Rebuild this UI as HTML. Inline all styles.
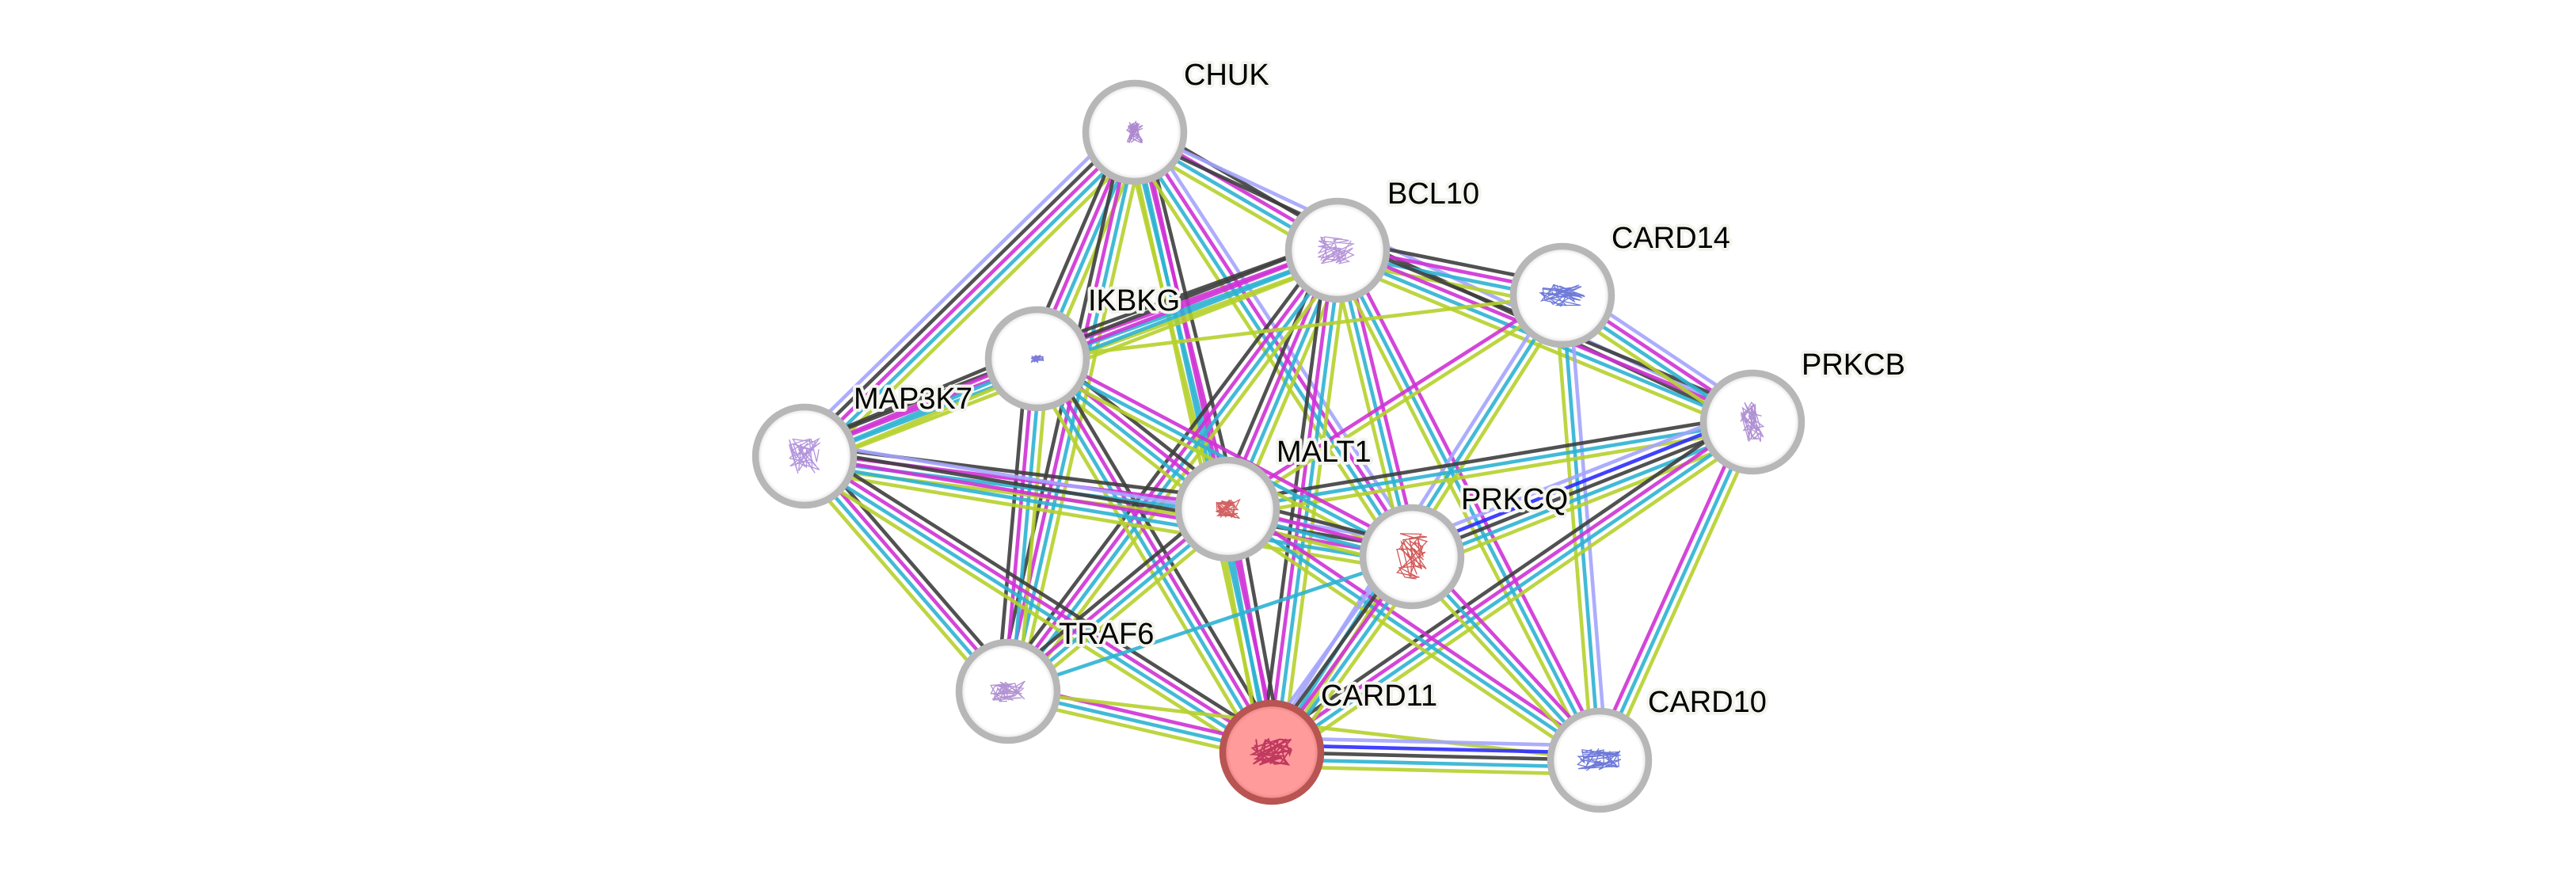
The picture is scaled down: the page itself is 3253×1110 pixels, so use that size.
<!DOCTYPE html>
<html><head><meta charset="utf-8"><style>
html,body{margin:0;padding:0;background:#fff;}
body{width:3253px;height:1110px;overflow:hidden;}
svg{display:block;}
.lbl{font-family:"Liberation Sans",Arial,sans-serif;font-size:38px;fill:#000;stroke:#f4f4ee;stroke-width:8px;stroke-linejoin:round;paint-order:stroke fill;}
</style></head><body>
<svg id="s" width="3253" height="1110" viewBox="0 0 3253 1110" xmlns="http://www.w3.org/2000/svg">
<defs>
<radialGradient id="gw" cx="50%" cy="50%" r="50%">
<stop offset="0" stop-color="#ffffff"/><stop offset="0.86" stop-color="#ffffff"/><stop offset="1" stop-color="#d6d6d6"/>
</radialGradient>
<radialGradient id="gr" cx="50%" cy="50%" r="50%">
<stop offset="0" stop-color="#ff9b9b"/><stop offset="0.86" stop-color="#ff9b9b"/><stop offset="1" stop-color="#e07a78"/>
</radialGradient>
</defs>
<g id="edges"></g>
<g id="nodes"></g>
<g id="labels">
<text class="lbl" x="1495" y="107">CHUK</text>
<text class="lbl" x="1752" y="257">BCL10</text>
<text class="lbl" x="2035" y="313">CARD14</text>
<text class="lbl" x="2275" y="473">PRKCB</text>
<text class="lbl" x="1374" y="392">IKBKG</text>
<text class="lbl" x="1078" y="516">MAP3K7</text>
<text class="lbl" x="1612" y="583">MALT1</text>
<text class="lbl" x="1845" y="643">PRKCQ</text>
<text class="lbl" x="1337" y="813">TRAF6</text>
<text class="lbl" x="1668" y="891">CARD11</text>
<text class="lbl" x="2081" y="899">CARD10</text>
</g>
</svg>
<script>
var NS="http://www.w3.org/2000/svg";
var N={CHUK:[1433,167],BCL10:[1689,316],CARD14:[1973,373],PRKCB:[2213,533],IKBKG:[1310,453],MAP3K7:[1016,576],MALT1:[1550,643],PRKCQ:[1783,703],TRAF6:[1273,873],CARD11:[1606,950],CARD10:[2020,960]};
var C={h:'#a4a4fd',o:'#2c2cff',k:'#3e3e3e',e:'#cf31d5',d:'#2eb3d3',t:'#b6d02c'};
var E=[
['CHUK','MAP3K7','hkedt'],['CHUK','IKBKG','kedt'],['CHUK','BCL10','kedt'],['CHUK','PRKCB','hk'],
['CHUK','MALT1','kedt'],['CHUK','TRAF6','kedt'],['CHUK','CARD11','edt'],['CHUK','PRKCQ','hedt'],
['BCL10','IKBKG','kedt'],['BCL10','MAP3K7','kedt'],['BCL10','CARD14','kedt'],['BCL10','PRKCB','kedt'],
['BCL10','MALT1','kedt'],['BCL10','CARD11','kedt'],['BCL10','TRAF6','kedt'],['BCL10','PRKCQ','edt'],['BCL10','CARD10','edt'],
['CARD14','IKBKG','t'],['CARD14','PRKCB','hedt'],['CARD14','MALT1','et'],['CARD14','CARD11','hdt'],['CARD14','CARD10','hdt'],
['PRKCB','MALT1','kdt'],['PRKCB','PRKCQ','hokdt'],['PRKCB','CARD11','kedt'],['PRKCB','CARD10','edt'],
['IKBKG','MAP3K7','kedt'],['IKBKG','MALT1','kedt'],['IKBKG','TRAF6','kedt'],['IKBKG','CARD11','kedt'],['IKBKG','PRKCQ','edt'],
['MAP3K7','MALT1','kedt'],['MAP3K7','PRKCQ','hkedt'],['MAP3K7','TRAF6','kedt'],['MAP3K7','CARD11','kedt'],
['MALT1','PRKCQ','kedt'],['MALT1','TRAF6','kedt'],['MALT1','CARD11','kedt'],['MALT1','CARD10','edt'],
['PRKCQ','CARD11','hkedt'],['PRKCQ','TRAF6','d'],['PRKCQ','CARD10','edt'],
['TRAF6','CARD11','edt'],['TRAF6','CARD10','t'],
['CARD11','CARD10','hokdt']
];
var eg=document.getElementById('edges');
E.forEach(function(e){
  var a=N[e[0]],b=N[e[1]];
  if(b[0]<a[0]||(b[0]==a[0]&&b[1]<a[1])){var t=a;a=b;b=t;}
  var dx=b[0]-a[0],dy=b[1]-a[1],L=Math.sqrt(dx*dx+dy*dy);
  var nx=-dy/L,ny=dx/L,s=e[2],n=s.length;
  for(var i=0;i<n;i++){
    var off=(i-(n-1)/2)*9;
    var l=document.createElementNS(NS,'line');
    l.setAttribute('x1',(a[0]+nx*off).toFixed(1));l.setAttribute('y1',(a[1]+ny*off).toFixed(1));
    l.setAttribute('x2',(b[0]+nx*off).toFixed(1));l.setAttribute('y2',(b[1]+ny*off).toFixed(1));
    l.setAttribute('stroke',C[s[i]]);l.setAttribute('stroke-width','4.6');l.setAttribute('stroke-opacity','0.9');
    eg.appendChild(l);
  }
});
var ng=document.getElementById('nodes');
var seed=7;function rnd(){seed=(seed*9301+49297)%233280;return seed/233280;}
var GC={CHUK:'#9a6cc4',BCL10:'#a57ad0',CARD14:'#4b5ad0',PRKCB:'#9c76c8',IKBKG:'#5a5ad0',MAP3K7:'#a07ad4',MALT1:'#c83a3a',PRKCQ:'#c83030',TRAF6:'#9f78c8',CARD11:'#b02050',CARD10:'#4a58d0'};
var GS={CHUK:[22,28],BCL10:[50,34],CARD14:[60,28],PRKCB:[30,50],IKBKG:[16,10],MAP3K7:[40,44],MALT1:[32,24],PRKCQ:[40,60],TRAF6:[46,26],CARD11:[50,34],CARD10:[56,30]};
Object.keys(N).forEach(function(k){
  var p=N[k],red=(k=='CARD11');
  var c=document.createElementNS(NS,'circle');
  c.setAttribute('cx',p[0]);c.setAttribute('cy',p[1]);c.setAttribute('r','62');
  c.setAttribute('fill',red?'url(#gr)':'url(#gw)');
  c.setAttribute('stroke',red?'#b85552':'#b7b7b7');c.setAttribute('stroke-width','8.5');
  ng.appendChild(c);
  var sz=GS[k],d='';
  for(var j=0;j<3;j++){
    var x=p[0]+(rnd()-0.5)*sz[0],y=p[1]+(rnd()-0.5)*sz[1];d+='M'+x.toFixed(1)+' '+y.toFixed(1);
    for(var i=0;i<14;i++){x=p[0]+(rnd()-0.5)*sz[0];y=p[1]+(rnd()-0.5)*sz[1];d+=' L'+x.toFixed(1)+' '+y.toFixed(1);}
  }
  var g=document.createElementNS(NS,'path');
  g.setAttribute('d',d);g.setAttribute('fill','none');g.setAttribute('stroke',GC[k]);
  g.setAttribute('stroke-width',red?'2':'1.3');g.setAttribute('stroke-opacity','0.8');
  ng.appendChild(g);
});
</script>
</body></html>
